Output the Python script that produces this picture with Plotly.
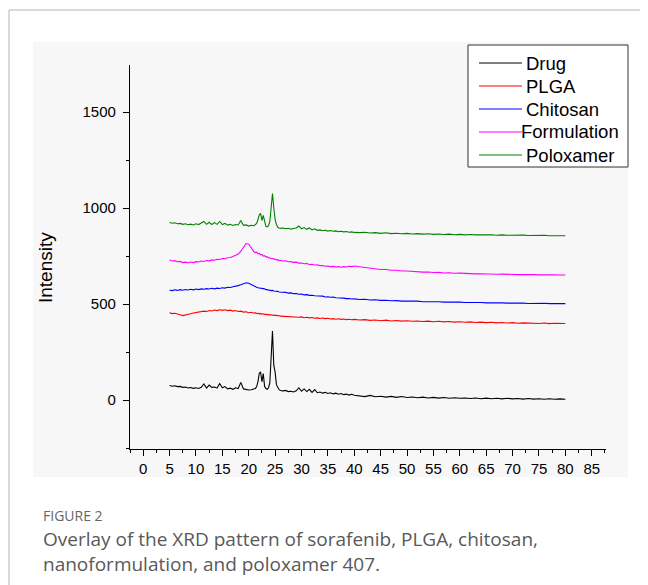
import plotly.graph_objects as go

two_theta = [5, 5.5, 6, 6.5, 7, 7.5, 8, 8.5, 9, 9.5, 10, 10.5, 11, 11.5, 12, 12.5, 13, 13.5, 14, 14.5,
             15, 15.5, 16, 16.5, 17, 17.5, 18, 18.5, 19, 19.5, 20, 20.5,
             21, 21.25, 21.5, 21.75, 22, 22.25, 22.5, 22.75, 23, 23.25, 23.5, 23.75, 24, 24.25, 24.5, 24.75,
             25, 25.25, 25.5, 25.75, 26,
             26.5, 27, 27.5, 28, 28.5, 29, 29.5, 30, 30.5, 31, 31.5, 32, 32.5, 33, 33.5, 34, 34.5, 35, 35.5,
             36, 36.5, 37, 37.5, 38, 38.5, 39, 39.5, 40,
             41, 42, 43, 44, 45, 46, 47, 48, 49, 50, 51, 52, 53, 54, 55, 56, 57, 58, 59, 60,
             61, 62, 63, 64, 65, 66, 67, 68, 69, 70, 71, 72, 73, 74, 75, 76, 77, 78, 79, 80]

drug = [76, 72, 74, 70, 71, 66, 68, 63, 65, 61, 64, 60, 66, 84, 62, 78, 66, 68, 62, 86,
        64, 70, 58, 62, 56, 64, 60, 92, 58, 56, 52, 54,
        56, 60, 70, 96, 140, 146, 95, 138, 72, 60, 56, 64, 90, 200, 360, 180, 145, 80, 62, 54, 50,
        48, 50, 44, 46, 42, 48, 64, 46, 58, 44, 56, 40, 54, 38, 42, 36, 40, 34, 38, 32, 36, 30, 34, 28, 31, 26, 30, 25,
        22, 18, 24, 17, 20, 15, 19, 14, 18, 13, 16, 12, 15, 11, 14, 10, 13, 9, 12, 9,
        11, 8, 11, 7, 10, 7, 9, 6, 9, 6, 8, 5, 8, 5, 7, 4, 7, 4, 6, 4]

plga = [455, 450, 452, 446, 444, 440, 442, 446, 449, 453, 455, 459, 458, 463, 461, 466, 464, 469, 466, 470,
        467, 470, 466, 468, 463, 466, 461, 463, 458, 460, 455, 457,
        452, 455, 450, 453, 448, 451, 447, 449, 445, 448, 444, 446, 442, 445, 441, 443, 440, 442, 438, 440, 437,
        436, 438, 434, 436, 432, 434, 431, 433, 429, 431, 428, 430, 426, 428, 425, 427, 424, 426, 422, 424, 421, 423,
        420, 422, 419, 421, 418, 420,
        417, 419, 415, 417, 413, 416, 412, 414, 411, 413, 410, 412, 409, 411, 408, 410, 407, 409, 406, 408,
        405, 407, 404, 406, 403, 405, 402, 404, 401, 403, 400, 402, 400, 401, 399, 401, 398, 400, 398, 399]

chitosan = [572, 570, 574, 571, 575, 572, 576, 573, 577, 574, 578, 575, 579, 577, 580, 578, 582, 579, 583, 581,
            585, 583, 587, 586, 590, 592, 596, 600, 606, 611, 608, 600,
            594, 590, 588, 585, 584, 581, 582, 578, 579, 575, 576, 572, 573, 570, 571, 568, 568, 566, 566, 563, 563,
            560, 561, 557, 558, 554, 555, 551, 552, 548, 549, 545, 546, 543, 543, 540, 541, 537, 538, 535, 536, 533,
            533, 530, 531, 528, 529, 526, 527,
            524, 525, 521, 522, 519, 520, 517, 518, 515, 516, 514, 515, 512, 513, 511, 512, 510, 511, 509, 510,
            508, 509, 507, 508, 506, 507, 505, 506, 505, 506, 504, 505, 503, 504, 503, 504, 502, 503, 502, 502]

formulation = [730, 724, 726, 720, 722, 716, 718, 715, 719, 716, 721, 719, 724, 722, 727, 725, 730, 728, 733, 732,
               737, 736, 741, 742, 748, 752, 760, 775, 795, 815, 812, 790,
               772, 768, 770, 762, 764, 756, 758, 750, 752, 745, 747, 740, 741, 736, 738, 733, 734, 730, 731, 727, 728,
               724, 725, 720, 721, 717, 718, 713, 714, 710, 711, 706, 707, 703, 704, 700, 701, 697, 698, 695, 696, 693,
               695, 692, 695, 693, 697, 695, 698,
               694, 690, 686, 684, 680, 680, 676, 676, 672, 672, 669, 669, 666, 667, 664, 665, 662, 663, 660, 661,
               659, 660, 657, 658, 656, 657, 655, 656, 654, 655, 653, 654, 652, 653, 652, 653, 651, 652, 651, 651]

poloxamer = [925, 921, 923, 918, 920, 915, 918, 913, 916, 912, 918, 914, 922, 930, 915, 926, 914, 924, 915, 930,
             914, 920, 911, 915, 909, 914, 912, 935, 910, 912, 906, 910,
             908, 912, 920, 940, 965, 972, 935, 962, 925, 905, 902, 908, 930, 1000, 1076, 1000, 940, 915, 900, 896, 894,
             896, 892, 895, 890, 893, 896, 906, 892, 898, 889, 896, 886, 892, 884, 886, 882, 884, 880, 883, 879, 881,
             877, 879, 876, 878, 874, 876, 873,
             872, 874, 870, 872, 868, 871, 867, 869, 866, 868, 865, 867, 864, 866, 863, 865, 862, 864, 861, 863,
             860, 862, 860, 861, 859, 861, 858, 860, 858, 859, 857, 859, 857, 858, 856, 858, 856, 857, 855, 856]

series_names = ["Drug", "PLGA", "Chitosan", "Formulation", "Poloxamer"]
series_values = [drug, plga, chitosan, formulation, poloxamer]
series_colors = ["#000000", "#ff0000", "#0000ff", "#ff00ff", "#008000"]

x_ticks = [0, 5, 10, 15, 20, 25, 30, 35, 40, 45, 50, 55, 60, 65, 70, 75, 80, 85]
y_ticks = [0, 500, 1000, 1500]

fig = go.Figure()
for name, vals, col in zip(series_names, series_values, series_colors):
    fig.add_trace(go.Scatter(x=two_theta, y=vals, mode="lines", name=name,
                             line=dict(color=col, width=1.1), showlegend=False))

# the page body has an 8px margin, so the figure is drawn 8px smaller and offset
OFF = 8
W, H = 648 - OFF, 585 - OFF
plot_left, plot_right, plot_top, plot_bottom = 130, 606, 65, 449   # page pixel coords
L = plot_left - OFF
R = W - (plot_right - OFF)
T = plot_top - OFF
B = H - (plot_bottom - OFF)
pw, ph = W - L - R, H - T - B

def px(xp):
    return (xp - OFF - L) / pw

def py(yp):
    return (H - B - (yp - OFF)) / ph

panel = "#f7f7f7"
shapes = [
    dict(type="rect", xref="paper", yref="paper", x0=px(33), x1=px(628), y0=py(477), y1=py(42),
         fillcolor=panel, line=dict(width=0), layer="below"),
    dict(type="line", xref="paper", yref="paper", x0=px(9), x1=px(660), y0=py(10), y1=py(10),
         line=dict(color="#cccccc", width=1.5)),
    dict(type="line", xref="paper", yref="paper", x0=px(9), x1=px(9), y0=py(10), y1=py(600),
         line=dict(color="#cccccc", width=1.5)),
    # legend box
    dict(type="rect", xref="paper", yref="paper", x0=px(468), x1=px(628), y0=py(167), y1=py(45),
         fillcolor="#ffffff", line=dict(color="#333333", width=1)),
]

legend_font = dict(family="Liberation Sans, Arial, sans-serif", size=18.5, color="#000000")
annotations = []
legend_rows = [63, 86, 109, 132, 155]
legend_text_x = [526, 526, 526, 521, 526]
for name, col, ry, tx in zip(series_names, series_colors, legend_rows, legend_text_x):
    shapes.append(dict(type="line", xref="paper", yref="paper", x0=px(479), x1=px(522),
                       y0=py(ry), y1=py(ry), line=dict(color=col, width=1)))
    annotations.append(dict(text=name, xref="paper", yref="paper", x=px(tx), y=py(ry),
                            showarrow=False, xanchor="left", yanchor="middle", xshift=-2,
                            font=legend_font))

annotations += [
    dict(text="Intensity", xref="paper", yref="paper", x=px(45), y=py(268),
         textangle=-90, showarrow=False, xanchor="center", yanchor="middle",
         font=dict(family="Liberation Sans, Arial, sans-serif", size=19, color="#000000")),
    dict(text="FIGURE 2", xref="paper", yref="paper", x=px(41), y=py(515),
         showarrow=False, xanchor="left", yanchor="middle",
         font=dict(family="Open Sans, Noto Sans, sans-serif", size=14, color="#666666")),
    dict(text="Overlay of the XRD pattern of sorafenib, PLGA, chitosan,<br>nanoformulation, and poloxamer 407.",
         xref="paper", yref="paper", x=px(41), y=py(551), showarrow=False,
         xanchor="left", yanchor="middle", align="left",
         font=dict(family="Open Sans, Noto Sans, sans-serif", size=19, color="#595959")),
]

axis_font = dict(family="Liberation Sans, Arial, sans-serif", size=15, color="#000000")

fig.update_layout(
    width=W, height=H,
    margin=dict(l=L, r=R, t=T, b=B),
    paper_bgcolor="#ffffff",
    plot_bgcolor=panel,
    shapes=shapes,
    showlegend=False,
    xaxis=dict(range=[-2.5, 87.7], tickmode="array", tickvals=x_ticks,
               ticks="outside", ticklen=6, tickwidth=1.2, tickcolor="#000000",
               showline=True, linecolor="#000000", linewidth=1.2,
               showgrid=False, zeroline=False, tickfont=axis_font,
               minor=dict(dtick=2.5, tick0=0, ticks="outside", ticklen=3, tickcolor="#000000", showgrid=False)),
    yaxis=dict(range=[-255, 1745], tickmode="array", tickvals=y_ticks,
               ticks="outside", ticklen=6, tickwidth=1.2, tickcolor="#000000",
               showline=True, linecolor="#000000", linewidth=1.2,
               showgrid=False, zeroline=False, tickfont=axis_font, ticklabelstandoff=4,
               minor=dict(dtick=250, tick0=0, ticks="outside", ticklen=3, tickcolor="#000000", showgrid=False)),
    annotations=annotations,
)

fig.write_html("out.html")
